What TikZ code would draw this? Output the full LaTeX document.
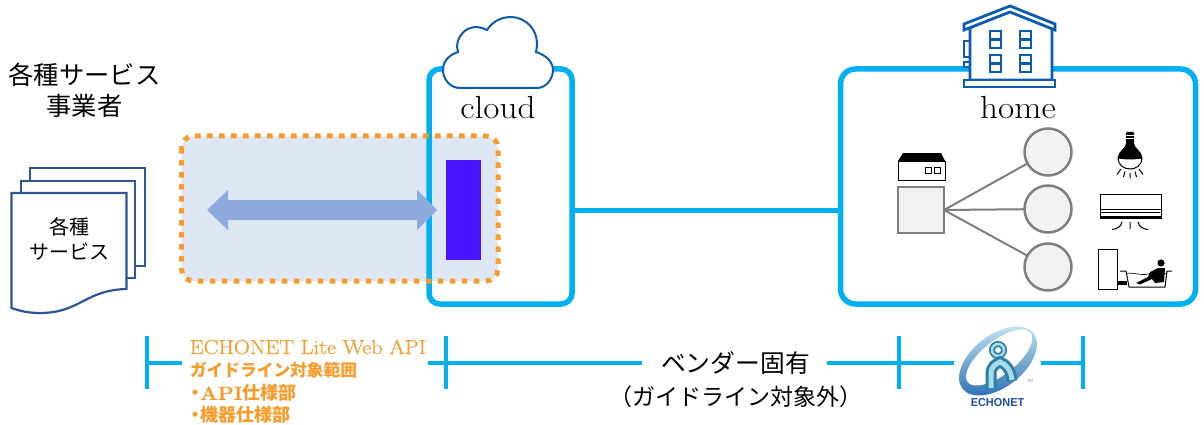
\documentclass[tikz,border=0pt]{standalone}
\usepackage{fontspec}
\newfontfamily\cjk{Noto Sans CJK JP}
\newfontfamily\logofont{Liberation Sans}
\newfontfamily\wideserif[FakeStretch=1.1]{Latin Modern Roman}
\newfontfamily\wideheavy[FakeStretch=1.1,FakeBold=0.6]{Latin Modern Roman}
\usetikzlibrary{calc}
\definecolor{linkblue}{HTML}{00B0F0}
\definecolor{iconblue}{HTML}{0B5CAD}
\definecolor{docblue}{HTML}{2F5597}
\definecolor{orangeish}{HTML}{F99B2B}
\definecolor{areafill}{HTML}{DEE8F5}
\definecolor{arrowfill}{HTML}{8FAADC}
\definecolor{apibar}{HTML}{4A14FF}
\definecolor{devgray}{HTML}{7F7F7F}
\definecolor{devfill}{HTML}{F2F2F2}
\definecolor{logodark}{HTML}{2E7FA8}
\definecolor{logolight}{HTML}{A6DCE6}
\definecolor{logotextblue}{HTML}{1F4FA0}
\tikzset{
  zone/.style={draw=linkblue,line width=5.5pt,fill=none,inner sep=0pt,outer sep=0pt,rectangle},
  link/.style={draw=linkblue,line width=5pt},
  barline/.style={draw=linkblue,line width=3.5pt},
  docpage/.style={draw=docblue,line width=2.2pt,fill=white},
  device/.style={draw=devgray,line width=2.5pt,fill=devfill,inner sep=0pt,outer sep=0pt},
  wire/.style={draw=devgray,line width=2pt},
  icon/.style={draw=black,line width=1pt,fill=white},
  houseline/.style={draw=iconblue,line width=2.8pt,fill=white},
  lab/.style={inner sep=0pt,outer sep=0pt,text=black,align=center},
  orangelab/.style={inner sep=0pt,outer sep=0pt,text=orangeish,anchor=west,font=\cjk\bfseries\fontsize{#1}{18}\selectfont},
}
\begin{document}
\begin{tikzpicture}[x=1pt,y=-1pt]
\useasboundingbox (0,0) rectangle (1204,425);
% service area background
\fill[areafill,rounded corners=12pt] (181.5,136) rectangle (498,281);
% zones
\node[zone,minimum width=143pt,minimum height=235pt,rounded corners=11pt] (cloudbox) at (500.5,186.5) {};
\node[zone,fill=white,minimum width=355pt,minimum height=235pt,rounded corners=15pt] (homebox) at (1018,186.5) {};
\coordinate (linkmid) at (700,210);
\draw[link] (cloudbox.east |- linkmid) -- (homebox.west |- linkmid);
% dotted outline
\draw[draw=orangeish,line width=5pt,dash pattern=on 5.5pt off 6.5pt,rounded corners=12pt] (181.5,136) rectangle (498,281);
% API bar and arrow
\node[fill=apibar,inner sep=0pt,minimum width=35pt,minimum height=100pt] (apibar) at (463.5,210) {};
\fill[arrowfill] (207,210) -- (228,190) -- (228,200) -- (417,200) -- (417,190) -- (437,210) -- (417,230) -- (417,220) -- (228,220) -- (228,230) -- cycle;
% cloud icon
\draw[draw=iconblue,line width=2pt,fill=white] (460,88)
 .. controls (450,88) and (443,79) .. (443,70)
 .. controls (443,61) and (449,55) .. (458,52)
 .. controls (453,38) and (468,20) .. (487,30)
 .. controls (494,19) and (505,17) .. (511,17)
 .. controls (525,17) and (541,30) .. (536,52)
 .. controls (546,55) and (553,62) .. (553,70)
 .. controls (553,79) and (546,88) .. (537,88) -- cycle;
\node[lab,font=\wideserif\fontsize{32}{34}\selectfont] (cloudlab) at (498,108) {cloud};
% house icon
\draw[houseline,line width=2pt] (964,41) rectangle (970,57);
\draw[houseline,line width=2pt] (964,62) rectangle (970,67);
\draw[houseline] (970,28) -- (970,80) -- (1052,80) -- (1052,28) -- (1010,9) -- cycle;
\draw[houseline] (1010,6) -- (1055,24) -- (1055,30) -- (1010,12) -- (964,30) -- (964,24) -- cycle;
\draw[houseline] (964,80) rectangle (1055,87);
\foreach \wx in {990,1020}{
  \foreach \wy in {31,55}{
    \draw[houseline,line width=2.4pt] (\wx,\wy) rectangle ++(11,17);
    \draw[draw=iconblue,line width=2.4pt] (\wx,\wy+8.5) -- ++(11,0);
  }
}
\node[lab,font=\wideserif\fontsize{32}{34}\selectfont] (homelab) at (1018,108) {home};
% service labels
\node[lab,font=\cjk\fontsize{25.3}{25}\selectfont] (svc1) at (84.5,75) {各種サービス};
\node[lab,font=\cjk\fontsize{25.3}{25}\selectfont] (svc2) at (84.5,106) {事業者};
% documents
\draw[docpage] (30,168) rectangle (145,266);
\draw[docpage] (21,181) rectangle (135,278);
\draw[docpage] (11.5,193) -- (126.5,193) -- (126.5,289)
  .. controls (85,290) and (80,313) .. (40,313)
  .. controls (28,313) and (20,311) .. (11.5,308) -- cycle;
\node[lab,font=\cjk\fontsize{20}{20}\selectfont] (doc1) at (69.5,227) {各種};
\node[lab,font=\cjk\fontsize{20}{20}\selectfont] (doc2) at (69.5,252) {サービス};
% gateway
\node[device,minimum width=46pt,minimum height=46pt] (hub) at (921,210) {};
\node[device,circle,minimum size=47pt] (dev1) at (1048,152) {};
\node[device,circle,minimum size=47pt] (dev2) at (1048,209) {};
\node[device,circle,minimum size=47pt] (dev3) at (1048,267) {};
\draw[wire] (hub.east) -- (dev1);
\draw[wire] (hub.east) -- (dev2);
\draw[wire] (hub.east) -- (dev3);
% small meter house
\fill[black] (898,161) -- (903,153) -- (941,153) -- (945,161) -- cycle;
\draw[icon] (898,161) rectangle (945,180);
\draw[icon] (925,167) rectangle (931,173);
\draw[icon] (934.5,167) rectangle (940.5,173);
% bulb
\fill[black,rounded corners=1pt] (1126,132) rectangle (1134,143);
\draw[white,line width=.7pt] (1126,135.5) -- (1134,135.5) (1126,138.5) -- (1134,138.5);
\draw[black,line width=1pt,fill=white] (1118,158) .. controls (1118,165) and (1124,169) .. (1130,169) .. controls (1136,169) and (1142,165) .. (1142,158) -- cycle;
\fill[black] (1118,158) .. controls (1118,150) and (1126,149) .. (1126.5,142) -- (1133.5,142) .. controls (1134,149) and (1142,150) .. (1142,158) .. controls (1136,160) and (1124,160) .. (1118,158) -- cycle;
\draw[black,line width=1pt] (1121,169) -- (1117,174.5) (1125,171.5) -- (1123.5,177) (1130,173) -- (1130,178) (1135,171.5) -- (1136.5,177) (1139,169) -- (1143,174.5);
% air conditioner
\draw[icon] (1100,194) rectangle (1161,218);
\draw[black,line width=1pt] (1100,209.5) -- (1161,209.5) (1101,212) -- (1160,212);
\fill[black] (1100,215.5) rectangle (1161,219);
\draw[black,line width=1pt] (1130,222) -- (1130,229)
 (1122,222) .. controls (1121,227) and (1117,229) .. (1112,229.5)
 (1138,222) .. controls (1139,227) and (1143,229) .. (1148,229.5);
% bath
\draw[icon] (1098,249) rectangle (1117,289);
\fill[black] (1117,281) rectangle (1127,285);
\draw[black,line width=1pt] (1120,271) -- (1126,271) -- (1129,287) -- (1165,287) -- (1167,271) -- (1172,271);
\draw[black,line width=.6pt] (1126,273.5) .. controls (1135,272) and (1140,276) .. (1148,274) .. controls (1155,272) and (1160,275) .. (1167,273);
\fill[black] (1161,263) circle[radius=3.6];
\fill[black] (1158,268) -- (1165,268) -- (1164,282) -- (1155,283) -- (1152,279) -- (1140,284.5) -- (1136,283) -- (1148,277) -- (1150,272) -- cycle;
% scale bar
\coordinate (t1t) at (147,336); \coordinate (t1b) at (147,389);
\coordinate (t2t) at (446,336); \coordinate (t2b) at (446,389);
\coordinate (t3t) at (899,336); \coordinate (t3b) at (899,389);
\coordinate (t4t) at (1083,336); \coordinate (t4b) at (1083,389);
\coordinate (g1) at (182,363); \coordinate (g2) at (428,363);
\coordinate (g3) at (642,363); \coordinate (g4) at (827,363);
\coordinate (g5) at (954,363); \coordinate (g6) at (1041,363);
\draw[barline] (t1t) -- (t1b);
\draw[barline] (t2t) -- (t2b);
\draw[barline] (t3t) -- (t3b);
\draw[barline] (t4t) -- (t4b);
\draw[barline] (t1t |- g1) -- (g1);
\draw[barline] (g2) -- (g3);
\draw[barline] (g4) -- (g5);
\draw[barline] (g6) -- (t4t |- g6);
% scale labels
\node[inner sep=0pt,text=orangeish,anchor=west,font=\wideheavy\fontsize{20.2}{22}\selectfont] (api) at (189.5,347) {ECHONET Lite Web API};
\node[orangelab=16.7] (scope) at (190,370) {ガイドライン対象範囲};
\node[orangelab=18] (spec1) at (186,393) {・\hspace{-4pt}{\wideheavy\fontsize{19}{20}\selectfont API}仕様部};
\node[orangelab=18] (spec2) at (186,415) {・\hspace{-4pt}機器仕様部};
\node[lab,font=\cjk\fontsize{24.8}{25}\selectfont] (vendor1) at (735.5,363) {ベンダー固有};
\node[lab,font=\cjk\fontsize{23}{24}\selectfont] (vendor2) at (736,397) {（ガイドライン対象外）};
% logo
\begin{scope}[rotate around={38:(998,361)}]
\shade[top color=logolight!60!white,bottom color=logodark!85!blue,even odd rule]
  (998,361) ellipse[x radius=45,y radius=26]
  (1001,359) ellipse[x radius=40,y radius=17];
\end{scope}
\draw[draw=logodark,line width=6pt] (998,350) circle[radius=6];
\draw[draw=logolight,line width=2.5pt] (998,350) circle[radius=6];
\draw[draw=logodark,line width=11pt] (991,389) -- (991,374) .. controls (991,366) and (996,364) .. (1000,362) .. controls (1006,364) and (1011,370) .. (1012,381);
\draw[draw=logolight,line width=5pt] (991,388) -- (991,374) .. controls (991,366) and (996,364) .. (1000,362) .. controls (1006,364) and (1011,370) .. (1012,380);
\node[inner sep=0pt,text=logotextblue,font=\logofont\bfseries\fontsize{11.5}{12}\selectfont,xscale=0.95] (logotext) at (997.5,402.5) {ECHONET};
\node[inner sep=0pt,text=gray,font=\logofont\fontsize{4}{4}\selectfont] (tm) at (1030,381) {TM};
\end{tikzpicture}
\end{document}
